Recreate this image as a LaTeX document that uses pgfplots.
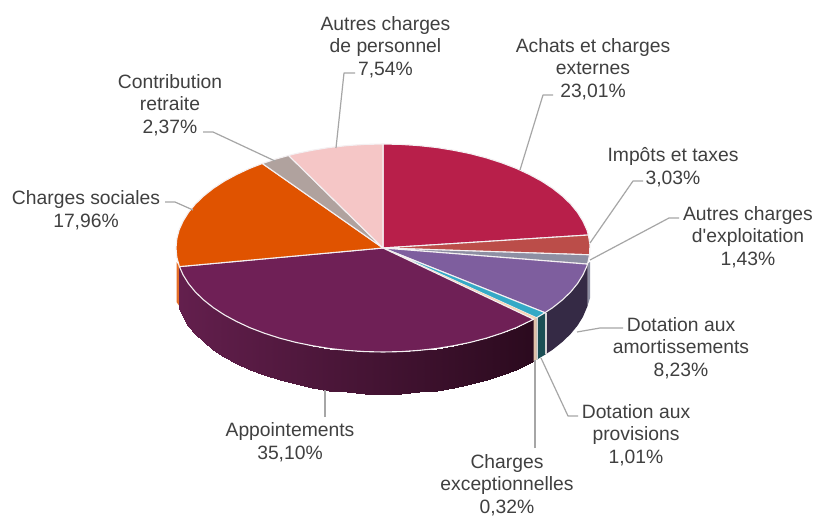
\documentclass[border=0pt]{standalone}
\usepackage{pgfplots}
\pgfplotsset{compat=1.18}
\usepackage{fontspec}
\setmainfont{Liberation Sans}

\definecolor{achats}{HTML}{B81F4A}
\definecolor{impots}{HTML}{BB4D49}
\definecolor{autres}{HTML}{8E8FA3}
\definecolor{amort}{HTML}{7E5E9E}
\definecolor{prov}{HTML}{35A9C6}
\definecolor{excep}{HTML}{F6D5B8}
\definecolor{appoint}{HTML}{6F2056}
\definecolor{sociales}{HTML}{E05300}
\definecolor{contrib}{HTML}{B0A29E}
\definecolor{perso}{HTML}{F5C6C6}
\definecolor{amortside}{HTML}{352A45}
\definecolor{provside}{HTML}{1B4F55}
\definecolor{excepside}{HTML}{E0C0A8}
\definecolor{edge}{HTML}{F4F0F2}
\definecolor{leader}{HTML}{A6A6A6}
\definecolor{txt}{HTML}{404040}

\tikzset{
    slice/.style={draw=edge, line width=1.1pt, line join=round},
    lead/.style={draw=leader, line width=1.2pt, line join=round},
    lab/.style={align=center, inner sep=0pt, text=txt,
        font=\fontsize{19.3}{22.6}\selectfont},
}

\begin{document}
\begin{tikzpicture}
\begin{axis}[
    x=1pt, y=1pt, y dir=reverse,
    xmin=0, xmax=817, ymin=0, ymax=513,
    hide axis, clip=false,
    colormap={side}{rgb255=(99,31,77) rgb255=(43,10,30)},
]
% page
\addplot[fill=white, draw=none] coordinates {(0,0) (817,0) (817,513) (0,513)} --cycle;

% --- pie wall ---
\addplot[fill=sociales!85!white, draw=none] coordinates {(176.5,262) (179.4,266.6) (179.4,306) (176.5,302)} --cycle;
\addplot[surf, shader=interp, mesh/rows=2, point meta=x] coordinates {
    (533.6,319.3) (516.1,327.7) (501.7,333.2) (486.5,338.1) (470.5,342.3) (453.8,345.7) (436.6,348.5)
    (418.9,350.4) (401.0,351.6) (383,352) (365.0,351.6) (347.1,350.4) (329.4,348.5) (312.2,345.7)
    (295.5,342.3) (279.5,338.1) (264.3,333.2) (249.9,327.7) (236.6,321.5) (224.4,314.9) (213.4,307.7)
    (203.7,300) (195.4,292.0) (188.5,283.6) (183.1,274.9) (179.4,266.6)

    (533.6,361.3) (516.1,369.7) (501.7,375.2) (486.5,380.1) (470.5,384.3) (453.8,387.7) (436.6,390.5)
    (418.9,392.4) (401.0,393.6) (383,394) (365.0,393.6) (347.1,392.4) (329.4,390.5) (312.2,387.7)
    (295.5,384.3) (279.5,380.1) (264.3,375.2) (249.9,369.7) (236.6,363.5) (224.4,356.9) (213.4,349.7)
    (203.7,342) (195.4,334.0) (188.5,325.6) (183.1,316.9) (179.4,308.6)
};
\addplot[fill=autres, draw=none] coordinates {(587.5,264) (590,262) (590,298) (587.5,306)} --cycle;
\addplot[fill=amortside, draw=none] coordinates {
    (587.5,264.1) (582.9,274.9) (577.5,283.6) (570.6,292.0) (562.3,300) (552.6,307.7) (545.0,312.7)
    (545.0,354.7) (552.6,349.7) (562.3,342) (570.6,334.0) (577.5,325.6) (582.9,316.9) (587.5,306.1)} --cycle;
\addplot[fill=provside, draw=none] coordinates {(545.0,312.7) (536.5,317.8) (536.5,359.8) (545.0,354.7)} --cycle;
\addplot[fill=excepside, draw=none] coordinates {(536.5,317.8) (533.6,319.3) (533.6,361.3) (536.5,359.8)} --cycle;
\addplot[draw=edge!75!gray, line width=1.4pt] coordinates {(546.0,313) (546.0,354)};
\addplot[draw=edge!75!gray, line width=0.9pt] coordinates {(537.6,318) (537.6,359)};

% --- pie top, slices clockwise from 12 o'clock ---
\addplot[fill=achats, slice] coordinates {(383,248) (383,144) (401.0,144.4) (418.9,145.6) (436.6,147.5)
    (453.8,150.3) (470.5,153.7) (486.5,157.9) (501.7,162.8) (516.1,168.3) (529.4,174.5) (541.6,181.1)
    (552.6,188.3) (562.3,196) (570.6,204.0) (577.5,212.4) (582.9,221.1) (586.9,229.9) (588.4,235.0)} --cycle;
\addplot[fill=impots, slice] coordinates {(383,248) (588.4,235.0) (589.9,244.4) (589.6,254.8)} --cycle;
\addplot[fill=autres, slice] coordinates {(383,248) (589.6,254.8) (587.5,264.1)} --cycle;
\addplot[fill=amort, slice] coordinates {(383,248) (587.5,264.1) (586.9,266.1) (582.9,274.9) (577.5,283.6)
    (570.6,292.0) (562.3,300) (552.6,307.7) (545.0,312.7)} --cycle;
\addplot[fill=prov, slice] coordinates {(383,248) (545.0,312.7) (536.5,317.8)} --cycle;
\addplot[fill=excep, draw=none] coordinates {(383,248) (536.5,317.8) (533.6,319.3)} --cycle;
\addplot[fill=appoint, slice] coordinates {(383,248) (533.6,319.3) (516.1,327.7) (501.7,333.2) (486.5,338.1)
    (470.5,342.3) (453.8,345.7) (436.6,348.5) (418.9,350.4) (401.0,351.6) (383,352) (365.0,351.6)
    (347.1,350.4) (329.4,348.5) (312.2,345.7) (295.5,342.3) (279.5,338.1) (264.3,333.2) (249.9,327.7)
    (236.6,321.5) (224.4,314.9) (213.4,307.7) (203.7,300) (195.4,292.0) (188.5,283.6) (183.1,274.9)
    (179.4,266.6)} --cycle;
\addplot[fill=sociales, slice] coordinates {(383,248) (179.4,266.6) (176.8,257.1) (176,248) (176.8,238.9)
    (179.1,229.9) (183.1,221.1) (188.5,212.4) (195.4,204.0) (203.7,196) (213.4,188.3) (224.4,181.1)
    (236.6,174.5) (249.9,168.3) (262.3,163.5)} --cycle;
\addplot[fill=contrib, slice] coordinates {(383,248) (262.3,163.5) (275.2,159.2) (288.6,155.5)} --cycle;
\addplot[fill=perso, slice] coordinates {(383,248) (288.6,155.5) (295.5,153.7) (312.2,150.3) (329.4,147.5)
    (347.1,145.6) (365.0,144.4) (383,144)} --cycle;

% --- leader lines ---
\addplot[lead] coordinates {(355,73) (344,73) (336,148)};
\addplot[lead] coordinates {(553,95) (543,95) (520,170)};
\addplot[lead] coordinates {(643,181) (633,181) (590,243)};
\addplot[lead] coordinates {(679,218) (669,218) (590,260)};
\addplot[lead] coordinates {(623,328) (600,328) (577,332)};
\addplot[lead] coordinates {(578,416) (568,416) (541,358)};
\addplot[lead] coordinates {(535,448) (535,360)};
\addplot[lead] coordinates {(325,417) (325,390)};
\addplot[lead] coordinates {(165,202) (175,202) (193,210)};
\addplot[lead] coordinates {(203,132) (213,132) (275,161)};

% --- labels ---
\node[lab] at (axis cs:385.5,47) {Autres charges\\de personnel\\7,54\%};
\node[lab] at (axis cs:593,69) {Achats et charges\\externes\\23,01\%};
\node[lab] at (axis cs:673,167) {Impôts et taxes\\3,03\%};
\node[lab] at (axis cs:748,237) {Autres charges\\d\textquotesingle exploitation\\1,43\%};
\node[lab] at (axis cs:681,348) {Dotation aux\\amortissements\\8,23\%};
\node[lab] at (axis cs:636,435) {Dotation aux\\provisions\\1,01\%};
\node[lab] at (axis cs:507,485) {Charges\\exceptionnelles\\0,32\%};
\node[lab] at (axis cs:290,442) {Appointements\\35,10\%};
\node[lab] at (axis cs:86,210) {Charges sociales\\17,96\%};
\node[lab] at (axis cs:170,105) {Contribution\\retraite\\2,37\%};
\end{axis}
\end{tikzpicture}
\end{document}
